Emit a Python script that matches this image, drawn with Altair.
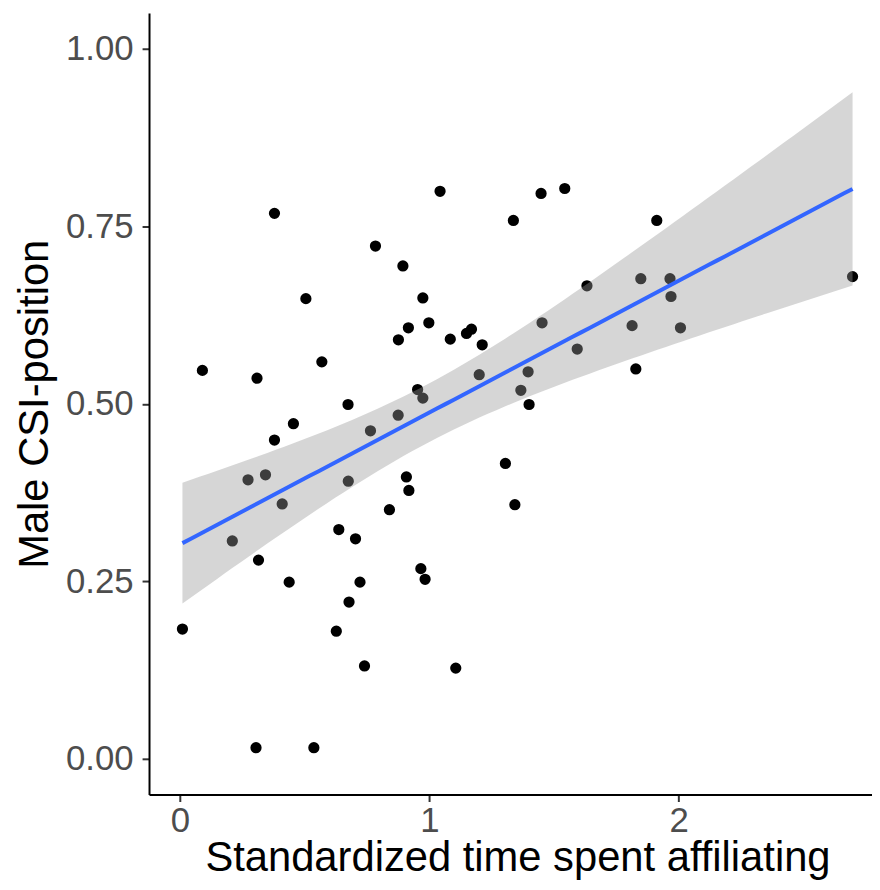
import altair as alt
import numpy as np
import pandas as pd

# Data
affil_time = [
    1.043, 0.379, 1.337, 0.784, 0.894, 0.505, 0.974, 0.998, 0.916, 0.876,
    1.084, 1.149, 1.169, 1.212, 0.090, 0.309, 0.569, 1.200, 0.953, 0.974,
    0.674, 0.875, 0.764, 0.455, 0.379, 1.305, 0.273, 0.343, 0.675, 0.908,
    0.918, 1.343, 0.410, 0.840, 0.210, 0.637, 0.704, 0.315, 0.438, 0.722,
    0.966, 0.983, 0.678, 0.010, 0.627, 0.740, 1.106, 0.305, 0.537, 1.448,
    1.543, 1.912, 1.632, 1.848, 1.965, 1.969, 2.697, 1.452, 1.813, 2.007,
    1.593, 1.396, 1.367, 1.400, 1.828,
]
csi_position = [
    0.799, 0.768, 0.758, 0.722, 0.694, 0.648, 0.649, 0.614, 0.607, 0.590,
    0.591, 0.599, 0.605, 0.583, 0.547, 0.536, 0.559, 0.541, 0.520, 0.508,
    0.499, 0.484, 0.462, 0.472, 0.449, 0.416, 0.393, 0.400, 0.391, 0.397,
    0.378, 0.358, 0.359, 0.351, 0.307, 0.323, 0.310, 0.280, 0.249, 0.249,
    0.268, 0.253, 0.221, 0.183, 0.180, 0.131, 0.128, 0.016, 0.016, 0.796,
    0.803, 0.758, 0.666, 0.676, 0.676, 0.651, 0.679, 0.614, 0.610, 0.607,
    0.577, 0.545, 0.519, 0.499, 0.549,
]
x_ticks = [0, 1, 2]
y_ticks = [0.0, 0.25, 0.5, 0.75, 1.0]

pts = pd.DataFrame({"x": affil_time, "y": csi_position})

# Linear model with 95% confidence band (as geom_smooth(method="lm"))
x = np.array(affil_time)
y = np.array(csi_position)
n = len(x)
b1, b0 = np.polyfit(x, y, 1)
resid = y - (b0 + b1 * x)
s = np.sqrt(np.sum(resid ** 2) / (n - 2))
xbar = x.mean()
sxx = np.sum((x - xbar) ** 2)
t_q = 1.998  # t quantile 0.975, df = 63
grid = np.linspace(x.min(), x.max(), 80)
fit = b0 + b1 * grid
se = s * np.sqrt(1.0 / n + (grid - xbar) ** 2 / sxx)
band = pd.DataFrame({"x": grid, "fit": fit, "lo": fit - t_q * se, "hi": fit + t_q * se})

W, H = 728, 787
xscale = alt.Scale(domain=[-0.124, 2.775], nice=False, zero=False)
yscale = alt.Scale(domain=[-0.05, 1.05], nice=False, zero=False)

xaxis = alt.Axis(
    values=x_ticks, format="d", title="Standardized time spent affiliating",
    titleX=371, titleY=76, titleBaseline="alphabetic", titleAnchor="middle",
    labelPadding=2,
)
yaxis = alt.Axis(
    values=y_ticks, format=".2f", title="Male CSI-position",
    titleX=-102, titleY=H / 2, titleBaseline="alphabetic", titleAngle=-90,
    labelPadding=9,
)

points = alt.Chart(pts).mark_circle(size=128, color="black", opacity=1).encode(
    x=alt.X("x:Q", scale=xscale, axis=xaxis),
    y=alt.Y("y:Q", scale=yscale, axis=yaxis),
)

ribbon = alt.Chart(band).mark_area(color="#999999", opacity=0.4).encode(
    x=alt.X("x:Q", scale=xscale),
    y=alt.Y("lo:Q", scale=yscale),
    y2="hi:Q",
)

line = alt.Chart(band).mark_line(color="#3366FF", strokeWidth=4).encode(
    x=alt.X("x:Q", scale=xscale),
    y=alt.Y("fit:Q", scale=yscale),
)

chart = (
    alt.layer(points, ribbon, line)
    .properties(
        width=W, height=H,
        autosize=alt.AutoSizeParams(type="none"),
        padding={"left": 142, "top": 2, "right": 0, "bottom": 85},
    )
    .configure_view(stroke=None)
    .configure_axis(
        grid=False,
        domainColor="black", domainWidth=2,
        tickColor="#333333", tickWidth=2, tickSize=7,
        labelFont="Liberation Sans", labelFontSize=35, labelColor="#4D4D4D",
        titleFont="Liberation Sans", titleFontSize=42, titleColor="black",
        titleFontWeight="normal",
    )
)

chart.save("out.html", embed_options={"renderer": "svg", "actions": False})
